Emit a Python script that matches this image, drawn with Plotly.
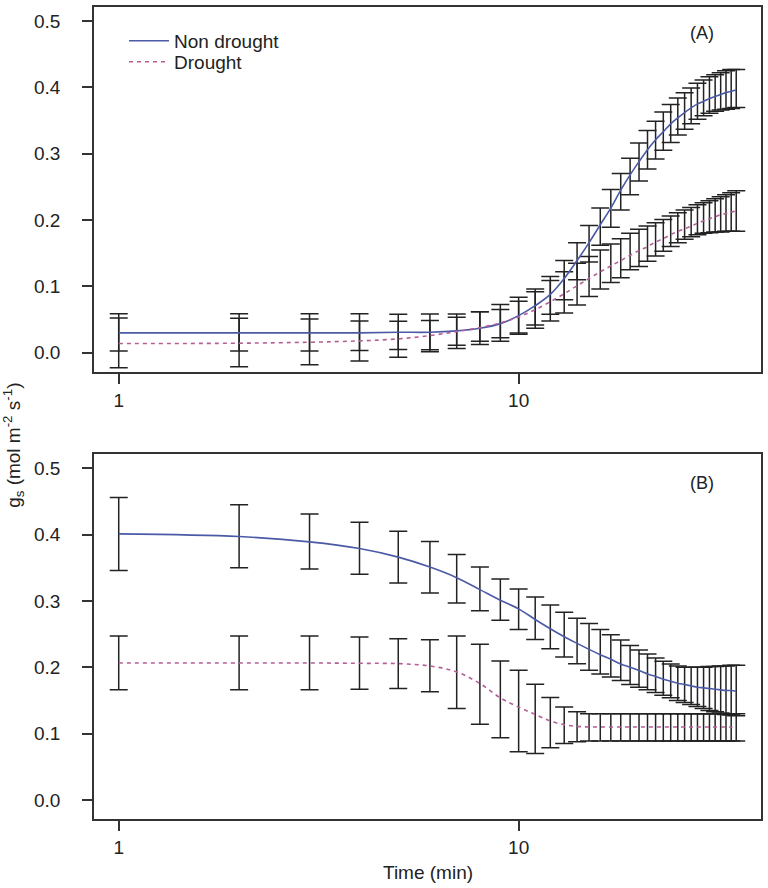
import plotly.graph_objects as go

# ---------------- data ----------------
time_min = list(range(1, 36))

# Panel A
A_nd_mean = [0.030, 0.030, 0.030, 0.030, 0.031, 0.031, 0.033, 0.037, 0.044, 0.056,
             0.071, 0.088, 0.112, 0.139, 0.166, 0.193, 0.218, 0.245, 0.268, 0.288,
             0.306, 0.321, 0.333, 0.345, 0.354, 0.362, 0.369, 0.375, 0.379, 0.383,
             0.386, 0.389, 0.392, 0.394, 0.396]
A_nd_upper = [0.059, 0.059, 0.059, 0.059, 0.058, 0.0586, 0.0586, 0.0617, 0.0728, 0.0838,
              0.096, 0.115, 0.139, 0.166, 0.192, 0.218, 0.246, 0.270, 0.293, 0.316,
              0.335, 0.349, 0.363, 0.374, 0.384, 0.392, 0.399, 0.406, 0.411, 0.416,
              0.419, 0.422, 0.425, 0.427, 0.427]
A_nd_lower = [0.0026, 0.0026, 0.0026, 0.0036, 0.005, 0.0045, 0.0066, 0.0126, 0.0176, 0.028,
              0.042, 0.058, 0.080, 0.110, 0.137, 0.162, 0.189, 0.215, 0.238, 0.259,
              0.277, 0.292, 0.305, 0.317, 0.328, 0.337, 0.345, 0.352, 0.357, 0.361,
              0.364, 0.366, 0.367, 0.368, 0.3695]

A_d_mean = [0.014, 0.0145, 0.016, 0.018, 0.021, 0.026, 0.032, 0.038, 0.045, 0.054,
            0.065, 0.077, 0.089, 0.101, 0.112, 0.122, 0.131, 0.139, 0.147, 0.154,
            0.160, 0.167, 0.172, 0.178, 0.183, 0.187, 0.191, 0.195, 0.199, 0.202,
            0.205, 0.208, 0.210, 0.212, 0.214]
A_d_upper = [0.0526, 0.052, 0.051, 0.048, 0.0476, 0.0487, 0.0537, 0.0617, 0.0652, 0.0777,
             0.092, 0.109, 0.122, 0.135, 0.145, 0.155, 0.164, 0.172, 0.180, 0.186,
             0.191, 0.196, 0.201, 0.206, 0.211, 0.215, 0.219, 0.223, 0.226, 0.229,
             0.232, 0.235, 0.238, 0.241, 0.244]
A_d_lower = [-0.0226, -0.021, -0.018, -0.0125, -0.0065, 0.0015, 0.0116, 0.0176, 0.0226, 0.030,
             0.037, 0.048, 0.060, 0.072, 0.085, 0.096, 0.106, 0.113, 0.125, 0.130,
             0.138, 0.146, 0.153, 0.160, 0.166, 0.171, 0.175, 0.178, 0.180, 0.181,
             0.182, 0.182, 0.183, 0.183, 0.183]

# Panel B
B_nd_mean = [0.401, 0.397, 0.389, 0.379, 0.366, 0.351, 0.335, 0.317, 0.301, 0.288,
             0.272, 0.258, 0.246, 0.236, 0.227, 0.219, 0.212, 0.205, 0.200, 0.195,
             0.190, 0.186, 0.182, 0.179, 0.176, 0.174, 0.172, 0.170, 0.169, 0.168,
             0.167, 0.166, 0.165, 0.165, 0.164]
B_nd_upper = [0.456, 0.445, 0.431, 0.4185, 0.405, 0.3895, 0.370, 0.351, 0.333, 0.318,
              0.306, 0.294, 0.283, 0.274, 0.266, 0.257, 0.249, 0.241, 0.233, 0.226,
              0.220, 0.214, 0.209, 0.205, 0.202, 0.200, 0.200, 0.200, 0.200, 0.201,
              0.201, 0.202, 0.202, 0.203, 0.203]
B_nd_lower = [0.346, 0.350, 0.348, 0.340, 0.327, 0.312, 0.297, 0.285, 0.271, 0.257,
              0.242, 0.228, 0.2155, 0.2055, 0.1955, 0.190, 0.1855, 0.180, 0.174, 0.170,
              0.166, 0.162, 0.158, 0.154, 0.150, 0.147, 0.144, 0.141, 0.138, 0.135,
              0.133, 0.131, 0.129, 0.128, 0.127]

B_d_mean = [0.2065, 0.2065, 0.2065, 0.206, 0.2055, 0.202, 0.193, 0.1755, 0.154, 0.140,
            0.129, 0.119, 0.1135, 0.111, 0.110, 0.110, 0.110, 0.110, 0.110, 0.110,
            0.110, 0.110, 0.110, 0.110, 0.110, 0.110, 0.110, 0.110, 0.110, 0.110,
            0.110, 0.110, 0.110, 0.110, 0.110]
B_d_upper = [0.247, 0.247, 0.247, 0.2455, 0.243, 0.2416, 0.247, 0.2346, 0.2095, 0.1955,
             0.1744, 0.1544, 0.140, 0.133, 0.130, 0.130, 0.130, 0.130, 0.130, 0.130,
             0.130, 0.130, 0.130, 0.130, 0.130, 0.130, 0.130, 0.130, 0.130, 0.130,
             0.130, 0.130, 0.130, 0.130, 0.130]
B_d_lower = [0.166, 0.166, 0.166, 0.167, 0.168, 0.163, 0.138, 0.114, 0.094, 0.0727,
             0.070, 0.0787, 0.085, 0.0877, 0.089, 0.089, 0.089, 0.089, 0.089, 0.089,
             0.089, 0.089, 0.089, 0.089, 0.089, 0.089, 0.089, 0.089, 0.089, 0.089,
             0.089, 0.089, 0.089, 0.089, 0.089]

y_ticks = [0.0, 0.1, 0.2, 0.3, 0.4, 0.5]
x_ticks = [1, 10]
x_ticktext = ["1", "10"]

# ---------------- styling ----------------
FONT = "Liberation Sans, Arial, Helvetica, sans-serif"
C_ND = "#4b5aa6"
C_D = "#b35f95"
C_ERR = "#222222"
C_AX = "#333333"

fig = go.Figure()


def add_panel(xa, ya, nd_m, nd_u, nd_l, d_m, d_u, d_l, legend):
    for m, u, l in ((nd_m, nd_u, nd_l), (d_m, d_u, d_l)):
        fig.add_trace(go.Scatter(
            x=time_min, y=m, mode="markers", xaxis=xa, yaxis=ya,
            marker=dict(size=1, opacity=0), showlegend=False, hoverinfo="skip",
            error_y=dict(type="data", symmetric=False,
                         array=[a - b for a, b in zip(u, m)],
                         arrayminus=[b - a for a, b in zip(l, m)],
                         color=C_ERR, thickness=1.5, width=9)))
    fig.add_trace(go.Scatter(
        x=time_min, y=nd_m, mode="lines", name="Non drought", xaxis=xa, yaxis=ya,
        legend="legend",
        line=dict(color=C_ND, width=1.6, shape="spline"), showlegend=legend))
    fig.add_trace(go.Scatter(
        x=time_min, y=d_m, mode="lines", name="Drought", xaxis=xa, yaxis=ya,
        legend="legend2",
        line=dict(color=C_D, width=1.6, shape="spline", dash="4px,4px"), showlegend=legend))


add_panel("x", "y", A_nd_mean, A_nd_upper, A_nd_lower, A_d_mean, A_d_upper, A_d_lower, True)
add_panel("x2", "y2", B_nd_mean, B_nd_upper, B_nd_lower, B_d_mean, B_d_upper, B_d_lower, False)

xcommon = dict(type="log", range=[-0.0618, 1.606], tickvals=x_ticks, ticktext=x_ticktext,
               ticks="outside", ticklen=10, tickwidth=1.5, tickcolor=C_AX,
               showline=True, linecolor=C_AX, linewidth=1.5, mirror=True,
               showgrid=False, zeroline=False, ticklabelstandoff=0,
               tickfont=dict(family=FONT, size=19, color="#222"))
ycommon = dict(tickvals=y_ticks, tickformat=".1f",
               ticks="outside", ticklen=10, tickwidth=1.5, tickcolor=C_AX,
               showline=True, linecolor=C_AX, linewidth=1.5, mirror=True,
               showgrid=False, zeroline=False, ticklabelstandoff=18,
               tickfont=dict(family=FONT, size=19, color="#222"))

leg_common = dict(xanchor="left", yanchor="middle", bgcolor="rgba(0,0,0,0)",
                  borderwidth=0, itemwidth=40,
                  font=dict(family=FONT, size=19, color="#222"))

fig.update_layout(
    width=768, height=888,
    margin=dict(l=94, r=6, t=5, b=69),
    paper_bgcolor="white", plot_bgcolor="white",
    font=dict(family=FONT, size=19, color="#222"),
    xaxis=dict(domain=[0, 1], anchor="y", **xcommon),
    yaxis=dict(domain=[0.5504, 1], anchor="x", range=[-0.029, 0.521], **ycommon),
    xaxis2=dict(domain=[0, 1], anchor="y2", **xcommon),
    yaxis2=dict(domain=[0, 0.4496], anchor="x2", range=[-0.0286, 0.5215], **ycommon),
    legend=dict(x=0.045, y=0.9582, **leg_common),
    legend2=dict(x=0.045, y=0.9324, **leg_common),
    showlegend=True,
    annotations=[
        dict(text="(A)", xref="x domain", yref="y domain", x=0.912, y=0.9285,
             xanchor="center", yanchor="middle", showarrow=False,
             font=dict(family=FONT, size=18, color="#222")),
        dict(text="(B)", xref="x2 domain", yref="y2 domain", x=0.912, y=0.921,
             xanchor="center", yanchor="middle", showarrow=False,
             font=dict(family=FONT, size=18, color="#222")),
        dict(text="Time (min)", xref="paper", yref="paper", x=0.5, y=-0.0663,
             xanchor="center", yanchor="middle", showarrow=False,
             font=dict(family=FONT, size=19, color="#222")),
        dict(text="g<sub>s</sub> (mol m<sup>-2</sup> s<sup>-1</sup>)",
             xref="paper", yref="paper", x=-0.12, y=0.4607, textangle=-90,
             xanchor="center", yanchor="middle", showarrow=False,
             font=dict(family=FONT, size=19, color="#222")),
    ],
)

fig.write_html("out.html", config={"displayModeBar": False},
               post_script="document.body.style.margin='0px';document.body.style.padding='0px';")
